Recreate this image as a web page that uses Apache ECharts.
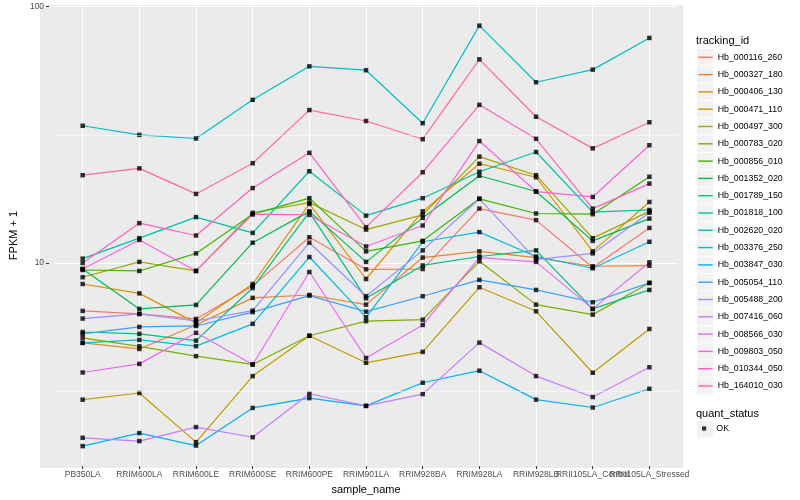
<!DOCTYPE html>
<html>
<head>
<meta charset="utf-8">
<script src="https://cdn.jsdelivr.net/npm/echarts@6/dist/echarts.min.js"></script>
<style>
html,body{margin:0;padding:0;background:#fff;}
#chart{width:800px;height:500px;}
</style>
</head>
<body>
<div id="chart"></div>
<script>
// ---------- data ----------
const categories = ['PB350LA','RRIM600LA','RRIM600LE','RRIM600SE','RRIM600PE','RRIM901LA','RRIM928BA','RRIM928LA','RRIM928LB','RRII105LA_Control','RRII105LA_Stressed'];

const seriesNames = ['Hb_000116_260','Hb_000327_180','Hb_000406_130','Hb_000471_110','Hb_000497_300','Hb_000783_020','Hb_000856_010','Hb_001352_020','Hb_001789_150','Hb_001818_100','Hb_002620_020','Hb_003376_250','Hb_003847_030','Hb_005054_110','Hb_005488_200','Hb_007416_060','Hb_008566_030','Hb_009803_050','Hb_010344_050','Hb_164010_030'];

const seriesColors = ['#F8766D','#EA8331','#D89000','#C09B00','#A3A500','#7CAE00','#39B600','#00BB4E','#00BF7D','#00C1A3','#00BFC4','#00BAE0','#00B0F6','#35A2FF','#9590FF','#C77CFF','#E76BF3','#FA62DB','#FF62BC','#FF6C90'];

const Hb_000116_260 = [6.50, 6.33, 6.05, 8.14, 12.6, 9.45, 9.47, 16.3, 14.7, 9.60, 13.7];
const Hb_000327_180 = [4.88, 4.62, 5.73, 7.31, 7.50, 6.88, 10.5, 11.1, 10.5, 9.71, 9.76];
const Hb_000406_130 = [8.28, 7.61, 5.84, 8.28, 17.0, 8.66, 15.9, 24.4, 21.6, 11.1, 17.3];
const Hb_000471_110 = [2.93, 3.11, 2.00, 3.62, 5.20, 4.08, 4.50, 8.04, 6.48, 3.73, 5.53];
const Hb_000497_300 = [8.80, 10.1, 9.31, 15.7, 17.2, 13.5, 15.4, 26.0, 22.0, 12.5, 15.9];
const Hb_000783_020 = [5.10, 4.73, 4.33, 4.02, 5.20, 5.93, 6.01, 10.15, 6.88, 6.29, 8.36];
const Hb_000856_010 = [9.39, 9.31, 10.9, 15.5, 17.9, 11.1, 12.2, 17.8, 15.6, 15.5, 21.7];
const Hb_001352_020 = [9.47, 6.62, 6.86, 12.0, 15.9, 10.1, 15.0, 21.9, 19.0, 12.2, 14.9];
const Hb_001789_150 = [5.38, 5.29, 4.98, 7.99, 15.8, 7.28, 9.78, 10.6, 11.2, 6.62, 7.85];
const Hb_001818_100 = [10.4, 12.5, 15.1, 13.1, 22.8, 15.3, 17.9, 22.7, 27.1, 15.8, 16.1];
const Hb_002620_020 = [34.3, 31.6, 30.6, 43.3, 58.5, 56.5, 35.1, 84.3, 50.7, 56.8, 75.5];
const Hb_003376_250 = [4.88, 5.01, 4.74, 5.79, 10.55, 6.14, 12.1, 13.2, 10.6, 9.54, 12.1];
const Hb_003847_030 = [1.93, 2.17, 1.94, 2.72, 2.97, 2.77, 3.41, 3.80, 2.93, 2.73, 3.23];
const Hb_005054_110 = [5.29, 5.63, 5.68, 6.43, 7.46, 6.46, 7.42, 8.59, 7.85, 7.03, 8.36];
const Hb_005488_200 = [6.07, 6.33, 5.94, 6.52, 12.0, 7.42, 11.2, 17.8, 10.3, 10.9, 15.7];
const Hb_007416_060 = [2.08, 2.02, 2.29, 2.09, 3.09, 2.77, 3.08, 4.89, 3.62, 3.00, 3.92];
const Hb_008566_030 = [3.74, 4.04, 5.34, 4.02, 9.22, 4.26, 5.73, 10.5, 10.1, 6.62, 10.06];
const Hb_009803_050 = [9.47, 12.3, 9.31, 15.5, 15.4, 11.6, 14.0, 29.9, 19.0, 18.1, 28.8];
const Hb_010344_050 = [10.0, 14.3, 12.8, 19.6, 26.9, 13.8, 22.6, 41.4, 30.5, 16.3, 20.4];
const Hb_164010_030 = [22.0, 23.4, 18.6, 24.5, 39.5, 35.8, 30.4, 62.3, 37.2, 28.0, 35.4];

const seriesValues = [Hb_000116_260, Hb_000327_180, Hb_000406_130, Hb_000471_110, Hb_000497_300, Hb_000783_020, Hb_000856_010, Hb_001352_020, Hb_001789_150, Hb_001818_100, Hb_002620_020, Hb_003376_250, Hb_003847_030, Hb_005054_110, Hb_005488_200, Hb_007416_060, Hb_008566_030, Hb_009803_050, Hb_010344_050, Hb_164010_030];

const yTickLabels = [10, 100];
const yMinorGrid = [3.1623, 31.623];
const yRange = [1.613, 101.5];
const statusName = 'OK';

// ---------- chart ----------
const FONT = '"Liberation Sans", Arial, Helvetica, sans-serif';
const chart = echarts.init(document.getElementById('chart'), null, {renderer: 'canvas'});

const points = [];
seriesValues.forEach(vals => vals.forEach((v, i) => points.push([categories[i], v])));

// legend layout (ggplot-like keys)
const keyCenter0 = 57.3, keyStep = 17.3, keyH = 17;
const graphics = [
  {type: 'rect', z: -10, silent: true, shape: {x: 40, y: 5, width: 643, height: 463}, style: {fill: '#EBEBEB'}}
];
seriesNames.forEach((n, i) => {
  graphics.push({type: 'rect', z: -10, silent: true,
    shape: {x: 697, y: keyCenter0 + keyStep * i - 8.25, width: 16.3, height: 16.5},
    style: {fill: '#F2F2F2'}});
});
graphics.push({type: 'rect', z: -10, silent: true, shape: {x: 697, y: 429 - 8.25, width: 16.3, height: 16.5}, style: {fill: '#F2F2F2'}});

const isTick = v => yTickLabels.some(t => Math.abs(t - v) < 1e-6 * t);

const option = {
  animation: false,
  backgroundColor: '#ffffff',
  textStyle: {fontFamily: FONT},
  title: [
    {text: 'tracking_id', left: 696, top: 35, padding: 0,
      textStyle: {fontSize: 11, fontWeight: 'normal', color: '#000', fontFamily: FONT}},
    {text: 'quant_status', left: 696, top: 408, padding: 0,
      textStyle: {fontSize: 11, fontWeight: 'normal', color: '#000', fontFamily: FONT}}
  ],
  grid: {left: 45.25, right: 122.25, top: 5, bottom: 32, containLabel: false},
  xAxis: {
    type: 'category', data: categories, boundaryGap: true,
    axisLine: {show: false},
    axisTick: {show: true, alignWithLabel: true, length: 3, lineStyle: {color: '#333333', width: 1}},
    axisLabel: {interval: 0, margin: 4, fontSize: 8.5, color: '#4D4D4D', fontFamily: FONT},
    splitLine: {show: true, alignWithLabel: true, lineStyle: {color: '#ffffff', width: 1.1}},
    name: 'sample_name', nameLocation: 'middle', nameGap: 14,
    nameTextStyle: {fontSize: 11, color: '#000', fontFamily: FONT}
  },
  yAxis: {
    type: 'log', logBase: 10, min: yRange[0], max: yRange[1], offset: 5.25,
    axisLine: {show: false},
    axisTick: {show: true, length: 3, lineStyle: {color: '#333333', width: 1}},
    axisLabel: {margin: 5, fontSize: 8.5, color: '#4D4D4D', fontFamily: FONT,
      showMinLabel: false, showMaxLabel: false,
      formatter: v => isTick(v) ? String(Math.round(v)) : ''},
    splitLine: {show: true, showMinLine: false, showMaxLine: false, lineStyle: {color: '#ffffff', width: 1.1}},
    name: 'FPKM + 1', nameLocation: 'middle', nameGap: 23, nameRotate: 90,
    nameTextStyle: {fontSize: 11, color: '#000', fontFamily: FONT}
  },
  legend: [
    {data: seriesNames, orient: 'vertical', left: 697.5, top: keyCenter0 - 0.4 * keyH,
      itemWidth: 14.5, itemHeight: keyH, itemGap: keyStep - 0.8 * keyH, padding: 0, selectedMode: false,
      textStyle: {fontSize: 8.8, color: '#000', fontFamily: FONT},
      itemStyle: {opacity: 0}, lineStyle: {width: 1.4}},
    {data: [{name: statusName, icon: 'path://M0,0L1,0L1,1L0,1Z'}], orient: 'vertical',
      left: 702, top: 424, itemWidth: 14.5, itemHeight: 4.2, padding: 0, selectedMode: false,
      symbolKeepAspect: true,
      textStyle: {fontSize: 8.8, color: '#000', fontFamily: FONT},
      itemStyle: {color: '#000'}}
  ],
  graphic: graphics,
  series: [
    {type: 'line', name: '_minor', data: [], z: 1, silent: true,
      markLine: {silent: true, symbol: ['none', 'none'], label: {show: false},
        emphasis: {disabled: true},
        lineStyle: {color: '#ffffff', width: 0.55, type: 'solid', opacity: 0.9},
        data: yMinorGrid.map(v => ({yAxis: v}))}},
    ...seriesNames.map((n, i) => ({
      type: 'line', name: n, data: seriesValues[i], symbol: 'none', z: 2, silent: true,
      lineStyle: {width: 1.2, color: seriesColors[i]},
      itemStyle: {color: seriesColors[i]},
      emphasis: {disabled: true}
    })),
    {type: 'scatter', name: statusName, data: points, symbol: 'rect', symbolSize: 4.5, z: 3,
      silent: true, itemStyle: {color: '#000'}, emphasis: {disabled: true}}
  ]
};
chart.setOption(option);
</script>
</body>
</html>
